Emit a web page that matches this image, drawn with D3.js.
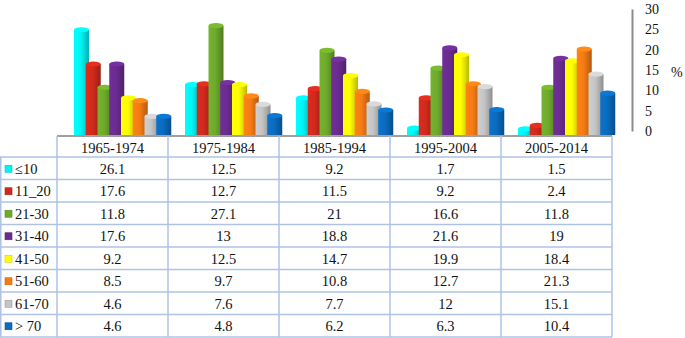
<!DOCTYPE html>
<html>
<head>
<meta charset="utf-8">
<script src="https://cdn.jsdelivr.net/npm/d3@7"></script>
<style>
  body { margin: 0; background: #fff; }
</style>
</head>
<body>
<svg id="chart"></svg>
<script>
// periods (table columns / bar clusters)
const periods = ['1965-1974', '1975-1984', '1985-1994', '1995-2004', '2005-2014'];
// age groups (series)
const ageGroups = ['≤10', '11_20', '21-30', '31-40', '41-50', '51-60', '61-70', '> 70'];
const colors = ['#00f4f4', '#d02a1c', '#6eaa2c', '#6a2c90', '#ffff00', '#f57c14', '#c4c4c4', '#0a6cc0'];

// values per age group, one per period
const upTo10   = [26.1, 12.5, 9.2, 1.7, 1.5];
const age11_20 = [17.6, 12.7, 11.5, 9.2, 2.4];
const age21_30 = [11.8, 27.1, 21, 16.6, 11.8];
const age31_40 = [17.6, 13, 18.8, 21.6, 19];
const age41_50 = [9.2, 12.5, 14.7, 19.9, 18.4];
const age51_60 = [8.5, 9.7, 10.8, 12.7, 21.3];
const age61_70 = [4.6, 7.6, 7.7, 12, 15.1];
const over70   = [4.6, 4.8, 6.2, 6.3, 10.4];
const series = [upTo10, age11_20, age21_30, age31_40, age41_50, age51_60, age61_70, over70];

const yTicks = [0, 5, 10, 15, 20, 25, 30];

const serif = '"Liberation Serif", "Times New Roman", "DejaVu Serif", serif';
const width = 685, height = 338;
const svg = d3.select('#chart').attr('width', width).attr('height', height);
const defs = svg.append('defs');

// gradients for the cylinder look
colors.forEach((c, i) => {
    const g = defs.append('linearGradient').attr('id', 'grad' + i)
        .attr('x1', 0).attr('x2', 1).attr('y1', 0).attr('y2', 0);
    g.append('stop').attr('offset', '0%').attr('stop-color', d3.color(c).brighter(0.15));
    g.append('stop').attr('offset', '45%').attr('stop-color', c);
    g.append('stop').attr('offset', '70%').attr('stop-color', d3.color(c).darker(0.35));
    g.append('stop').attr('offset', '100%').attr('stop-color', d3.color(c).darker(0.9));
});

// scales
const tableLeft = 57, tableRight = 612;
const x0 = d3.scaleBand().domain(periods).range([tableLeft, tableRight]);
const x1 = d3.scaleBand().domain(ageGroups).range([17, 111]);
const barW = 15;

const y = d3.scaleLinear().domain([0, 30]).range([131, 9]);     // axis on the back wall
const yBar = d3.scaleLinear().domain([0, 30]).range([135, 14]); // bars in front

// bars
const ry = 2.6;
series.forEach((vals, si) => {
    const g = svg.append('g');
    vals.forEach((v, pi) => {
        const bx = x0(periods[pi]) + x1(ageGroups[si]);
        const top = yBar(v);
        g.append('rect')
            .attr('x', bx).attr('y', top)
            .attr('width', barW).attr('height', yBar(0) - top)
            .attr('fill', 'url(#grad' + si + ')');
        g.append('ellipse')
            .attr('cx', bx + barW / 2).attr('cy', top)
            .attr('rx', barW / 2).attr('ry', ry)
            .attr('fill', d3.color(colors[si]).brighter(0.3));
    });
});

// y axis at the right
const axis = svg.append('g')
    .attr('transform', 'translate(632,0)')
    .call(d3.axisRight(y).tickValues(yTicks).tickSize(0).tickPadding(13))
    .attr('font-family', serif)
    .attr('font-size', 14);
axis.select('.domain').attr('stroke', '#8c8c8c').attr('stroke-width', 2);
axis.selectAll('text').attr('fill', '#111');

svg.append('text')
    .attr('x', 671).attr('y', 72).attr('dy', '0.35em')
    .attr('font-family', serif).attr('font-size', 14).attr('fill', '#111')
    .text('%');

// data table
const headerTop = 136, headerBottom = 157, rowH = 22.5;
const gridColor = '#aec2e6';
const table = svg.append('g')
    .attr('font-family', serif).attr('font-size', 14.5).attr('fill', '#111');
const rowY = i => headerBottom + i * rowH;

// horizontal lines
table.append('line')
    .attr('x1', tableLeft).attr('x2', tableRight)
    .attr('y1', headerTop).attr('y2', headerTop)
    .attr('stroke', '#a0a0a0').attr('stroke-width', 2);
d3.range(ageGroups.length + 1).forEach(i => {
    table.append('line')
        .attr('x1', 0).attr('x2', tableRight)
        .attr('y1', rowY(i)).attr('y2', rowY(i))
        .attr('stroke', gridColor).attr('stroke-width', 1.5);
});
// vertical lines
const colEdges = [tableLeft].concat(periods.map(p => x0(p) + x0.bandwidth()));
colEdges.forEach(cx => {
    table.append('line')
        .attr('x1', cx).attr('x2', cx)
        .attr('y1', headerTop).attr('y2', rowY(ageGroups.length))
        .attr('stroke', gridColor).attr('stroke-width', 1.5);
});
table.append('line')
    .attr('x1', 0.75).attr('x2', 0.75)
    .attr('y1', rowY(0)).attr('y2', rowY(ageGroups.length))
    .attr('stroke', gridColor).attr('stroke-width', 1.5);

// header texts
periods.forEach(p => {
    table.append('text')
        .attr('x', x0(p) + x0.bandwidth() / 2)
        .attr('y', (headerTop + headerBottom) / 2 + 1).attr('dy', '0.35em')
        .attr('text-anchor', 'middle')
        .text(p);
});

// rows
ageGroups.forEach((a, si) => {
    const cy = rowY(si) + rowH / 2 + 0.5;
    table.append('rect')
        .attr('x', 5).attr('y', cy - 3.5)
        .attr('width', 7).attr('height', 7)
        .attr('fill', colors[si])
        .attr('stroke', d3.color(colors[si]).darker(0.6)).attr('stroke-width', 0.6);
    table.append('text')
        .attr('x', 15).attr('y', cy).attr('dy', '0.35em')
        .text(a);
    series[si].forEach((v, pi) => {
        table.append('text')
            .attr('x', x0(periods[pi]) + x0.bandwidth() / 2)
            .attr('y', cy).attr('dy', '0.35em')
            .attr('text-anchor', 'middle')
            .text(v);
    });
});
</script>
</body>
</html>
